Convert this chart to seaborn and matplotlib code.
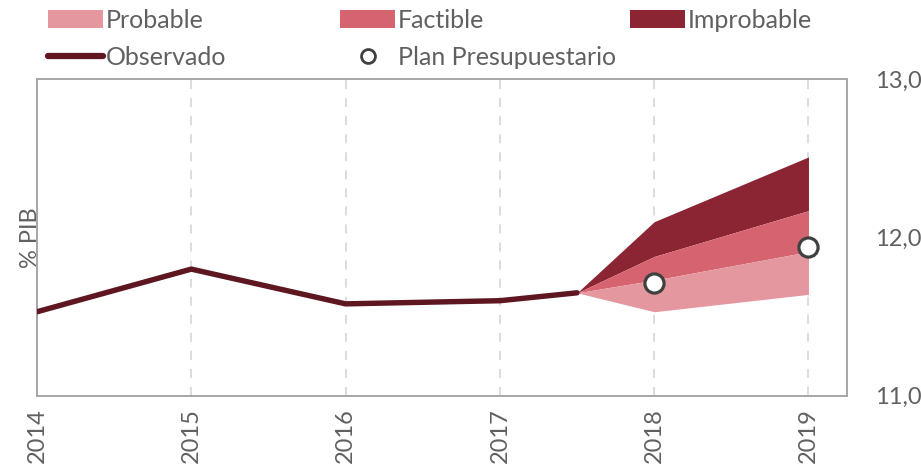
import matplotlib
matplotlib.use('Agg')
import matplotlib.pyplot as plt
import seaborn as sns
import pandas as pd
from matplotlib.patches import Patch
from matplotlib.lines import Line2D

# Datos
anios_obs = [2014, 2015, 2016, 2017, 2017.5]
observado = [11.53, 11.80, 11.58, 11.60, 11.65]

anios_fan = [2017.5, 2018, 2019]
limite_inferior = [11.65, 11.53, 11.64]
probable_sup = [11.65, 11.73, 11.91]
factible_sup = [11.65, 11.88, 12.17]
improbable_sup = [11.65, 12.10, 12.51]

anios_plan = [2018, 2019]
plan_presupuestario = [11.71, 11.94]

anios_ticks = [2014, 2015, 2016, 2017, 2018, 2019]
y_ticks = [11.0, 12.0, 13.0]
y_ticklabels = ['11,0', '12,0', '13,0']

c_probable = '#e4979f'
c_factible = '#d66370'
c_improbable = '#8c2533'
c_observado = '#5e1620'
c_texto = '#606060'
c_eje = '#a6a6a6'

sns.set_style('white')
plt.rcParams['font.family'] = ['Lato', 'DejaVu Sans']

df_obs = pd.DataFrame({'anio': anios_obs, 'valor': observado})
df_plan = pd.DataFrame({'anio': anios_plan, 'valor': plan_presupuestario})

fig = plt.figure(figsize=(9.21, 4.69), dpi=100)
ax = fig.add_axes([0.0402, 0.1567, 0.8795, 0.6738])

# Abanico
ax.fill_between(anios_fan, factible_sup, improbable_sup, color=c_improbable, lw=0, zorder=2)
ax.fill_between(anios_fan, probable_sup, factible_sup, color=c_factible, lw=0, zorder=2)
ax.fill_between(anios_fan, limite_inferior, probable_sup, color=c_probable, lw=0, zorder=2)

sns.lineplot(data=df_obs, x='anio', y='valor', color=c_observado, lw=3.9, ax=ax, zorder=3)
sns.scatterplot(data=df_plan, x='anio', y='valor', color='white', edgecolor='#404040',
                linewidth=2.3, s=190, ax=ax, zorder=4)

ax.set_xlim(2014, 2019.25)
ax.set_ylim(11, 13)
ax.set_xticks(anios_ticks)
ax.set_xticklabels([str(a) for a in anios_ticks], rotation=90, fontsize=17, color=c_texto)
ax.set_yticks(y_ticks)
ax.set_yticklabels(y_ticklabels, fontsize=17, color=c_texto)
ax.yaxis.tick_right()
ax.tick_params(axis='y', length=0, pad=20)
ax.tick_params(axis='x', length=0, pad=9)
ax.yaxis.set_label_position('left')
ax.set_ylabel('% PIB', fontsize=17, color=c_texto, labelpad=-3)
ax.set_xlabel('')

ax.grid(axis='x', color='#d9d9d9', linestyle=(0, (5, 5)), lw=1.3, zorder=1)
ax.grid(axis='y', visible=False)
for s in ax.spines.values():
    s.set_color(c_eje)
    s.set_linewidth(1.4)

# Leyenda en tres columnas colocadas a mano
estilo = dict(frameon=False, fontsize=18, handlelength=2.2, handletextpad=0.1,
              labelspacing=0.55, borderpad=0, borderaxespad=0, labelcolor=c_texto,
              loc='upper left')
h1 = [Patch(facecolor=c_probable, edgecolor='none'),
      Line2D([0], [0], color=c_observado, lw=4.5)]
h2 = [Patch(facecolor=c_factible, edgecolor='none'),
      Line2D([0], [0], color='none', marker='o', markersize=10, markerfacecolor='white',
             markeredgecolor='#404040', markeredgewidth=2)]
h3 = [Patch(facecolor=c_improbable, edgecolor='none')]
y_ley = 1 - 9 / 469
fig.legend(h1, ['Probable', 'Observado'], bbox_to_anchor=(48 / 921, y_ley), **estilo)
fig.legend(h2, ['Factible', 'Plan Presupuestario'], bbox_to_anchor=(340 / 921, y_ley), **estilo)
fig.legend(h3, ['Improbable'], bbox_to_anchor=(630 / 921, y_ley), **estilo)

plt.savefig('out.png', dpi=100)
